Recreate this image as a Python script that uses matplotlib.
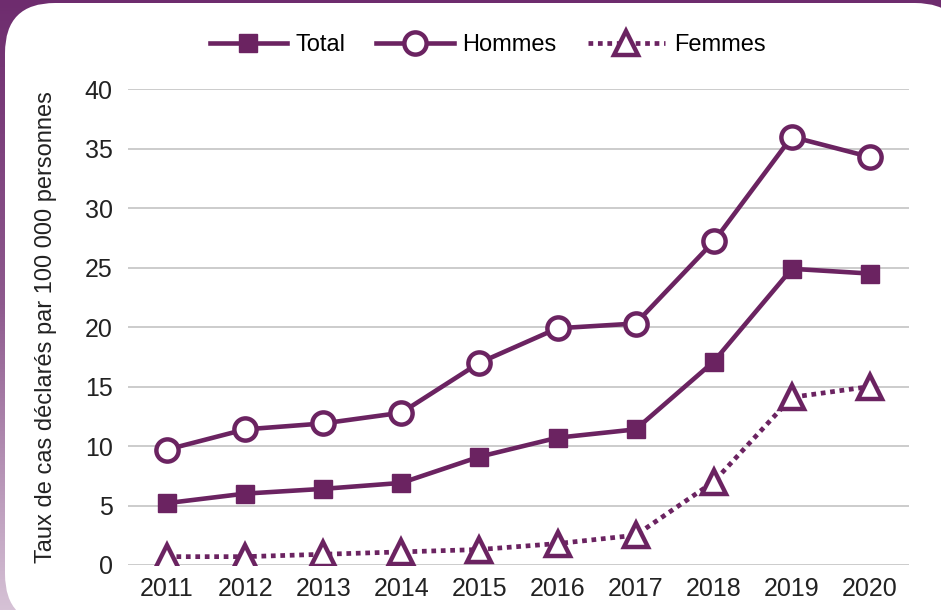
import numpy as np
import matplotlib.pyplot as plt
from matplotlib.patches import FancyBboxPatch
from matplotlib.lines import Line2D
from matplotlib.colors import LinearSegmentedColormap

years = ['2011', '2012', '2013', '2014', '2015', '2016', '2017', '2018', '2019', '2020']
total = [5.2, 6.0, 6.4, 6.9, 9.1, 10.7, 11.4, 17.1, 24.9, 24.5]
hommes = [9.7, 11.4, 11.9, 12.8, 17.0, 19.9, 20.3, 27.2, 36.0, 34.3]
femmes = [0.7, 0.7, 0.9, 1.1, 1.3, 1.8, 2.5, 7.0, 14.1, 15.0]

purple = '#6b2361'
plt.rcParams['font.family'] = ['Liberation Sans', 'DejaVu Sans']

fig = plt.figure(figsize=(9.41, 6.10), dpi=100)

# purple frame with a vertical gradient, white rounded card on top (pixel coords)
bg = fig.add_axes([0, 0, 1, 1], zorder=-2)
grad = np.linspace(0, 1, 256).reshape(-1, 1)
cmap = LinearSegmentedColormap.from_list('bg', ['#6e2c6e', '#8e5a8e', '#d6c2d6'])
bg.imshow(grad, aspect='auto', cmap=cmap, extent=[0, 941, 610, 0])
bg.set_xlim(0, 941)
bg.set_ylim(610, 0)
bg.axis('off')
card = FancyBboxPatch((5, 3), 960, 621, boxstyle='round,pad=0,rounding_size=50',
                      facecolor='white', edgecolor='none')
bg.add_patch(card)

ax = fig.add_axes([0.136, 0.0738, 0.830, 0.780])
x = np.arange(len(years))

ax.plot(x, total, color=purple, lw=3.3, marker='s', ms=13.5, zorder=3)
ax.plot(x, hommes, color=purple, lw=3.3, marker='o', ms=16, mfc='white', mew=3.2, zorder=3)
ax.plot(x, femmes, color=purple, lw=3.4, ls=(0, (1, 1)), dash_capstyle='butt',
        marker='^', ms=17, mfc='white', mew=3.2, zorder=3)

ax.set_xlim(-0.5, 9.5)
ax.set_ylim(0, 40)
ax.set_yticks(range(0, 41, 5))
ax.set_xticks(x)
ax.set_xticklabels(years)
ax.grid(axis='y', color='#c4c4c4', lw=1.2)
ax.set_axisbelow(True)
for s in ax.spines.values():
    s.set_visible(False)
ax.tick_params(length=0, labelsize=18, colors='#222222', pad=9)
ax.tick_params(axis='y', pad=11)
ax.set_ylabel('Taux de cas déclarés par 100 000 personnes', fontsize=17, color='#222222', labelpad=20)

handles = [
    Line2D([], [], color=purple, lw=3.3, marker='s', ms=13.5),
    Line2D([], [], color=purple, lw=3.3, marker='o', ms=16, mfc='white', mew=3.2),
    Line2D([], [], color=purple, lw=3.4, ls=(0, (1, 1)), dash_capstyle='butt',
           marker='^', ms=17, mfc='white', mew=3.2),
]
fig.legend(handles, ['Total', 'Hommes', 'Femmes'], loc='center', bbox_to_anchor=(0.518, 0.926),
           ncol=3, frameon=False, fontsize=17, handlelength=3.3, columnspacing=1.3,
           handletextpad=0.35)

fig.savefig('out.png', dpi=100)
